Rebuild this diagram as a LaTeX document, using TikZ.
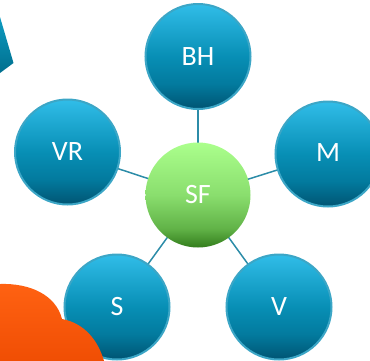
\documentclass[tikz,border=0pt]{standalone}
\usepackage{fontspec}
\setmainfont{Carlito}
\definecolor{edgeblue}{HTML}{2C8CA8}
\definecolor{ringblue}{HTML}{3CA6C6}
\definecolor{cornerT}{HTML}{0E9CC2}
\definecolor{cornerB}{HTML}{006F8E}
\definecolor{orangeT}{HTML}{FF6212}
\definecolor{orangeB}{HTML}{F04E04}
\pgfdeclareverticalshading{bluefill}{100bp}{
  rgb(0bp)=(0,0.33,0.45); rgb(25bp)=(0,0.33,0.45); rgb(37bp)=(0.01,0.48,0.62);
  rgb(50bp)=(0.03,0.56,0.71); rgb(75bp)=(0.19,0.74,0.91); rgb(100bp)=(0.19,0.74,0.91)}
\pgfdeclareverticalshading{greenfill}{100bp}{
  rgb(0bp)=(0.20,0.49,0.11); rgb(25bp)=(0.20,0.49,0.11); rgb(34bp)=(0.38,0.70,0.28);
  rgb(50bp)=(0.54,0.87,0.43); rgb(75bp)=(0.67,1,0.55); rgb(100bp)=(0.67,1,0.55)}
\tikzset{
  bub/.style={circle,minimum size=105bp,inner sep=0pt,text=white,font=\fontsize{28bp}{30bp}\selectfont},
  bluebub/.style={bub,draw=ringblue,line width=2bp,shading=bluefill},
  greenbub/.style={bub,shading=greenfill},
  link/.style={draw=edgeblue,line width=1.5bp}
}
\begin{document}
\begin{tikzpicture}[x=1bp,y=-1bp]
\useasboundingbox (0,0) rectangle (370,361);
\clip (0,0) rectangle (370,361);
\coordinate (cBH) at (198,56.5);
\coordinate (cVR) at (67.5,152);
\coordinate (cM) at (328,154);
\coordinate (cS) at (117,307);
\coordinate (cV) at (279,307);
\coordinate (cSF) at (198,195);
\draw[link] (cSF) -- (cBH);
\draw[link] (cSF) -- (cVR);
\draw[link] (cSF) -- (cM);
\draw[link] (cSF) -- (cS);
\draw[link] (cSF) -- (cV);
\node[bluebub] (BH) at (cBH) {\raisebox{-1bp}{BH}};
\node[bluebub] (VR) at (cVR) {VR};
\node[bluebub] (M) at (cM) {\raisebox{2bp}{M}};
\node[bluebub] (S) at (cS) {S};
\node[bluebub] (V) at (cV) {V};
\node[greenbub] (SF) at (cSF) {\raisebox{-1bp}{SF}};
% corner shape, top left
\path[top color=cornerT,bottom color=cornerB] (0,17) -- (13.5,63) -- (0,73) -- cycle;
% cloud, bottom left
\path[top color=orangeT,bottom color=orangeB] (0,284) .. controls (30,283) and (56,295) .. (62,319)
  .. controls (84,323) and (98,340) .. (104,361) -- (0,361) -- cycle;
\end{tikzpicture}
\end{document}
